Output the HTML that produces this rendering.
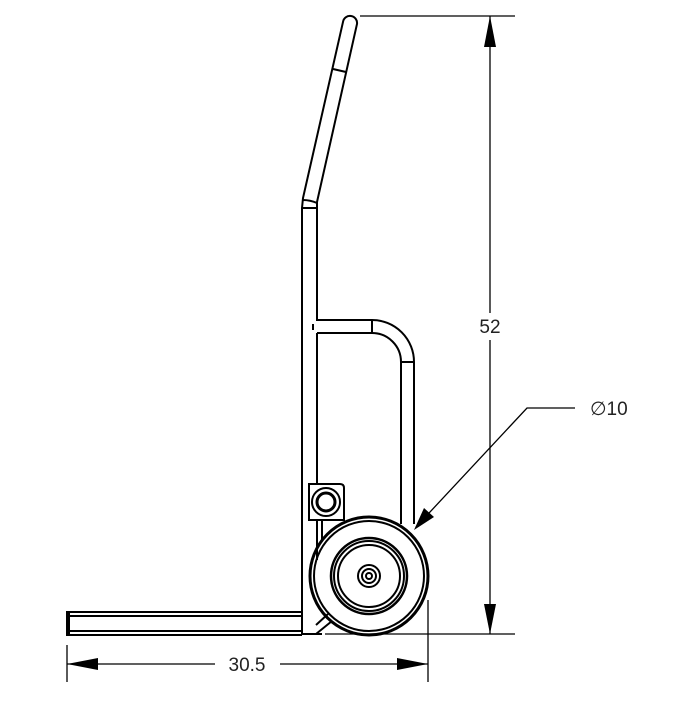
<!DOCTYPE html>
<html><head><meta charset="utf-8"><style>html,body{margin:0;padding:0;background:#fff}</style></head><body>
<svg width="700" height="700" viewBox="0 0 700 700" xmlns="http://www.w3.org/2000/svg">
<g fill="none" stroke="#000" stroke-width="2">
<path d="M302,634 L302,208 L303,198 L343,22 A7,7 0 0 1 357,24 L317,202 L317,320 L372,320 A42,42 0 0 1 414,362 L414,524"/>
<path d="M317,333 L372,333 A29,29 0 0 1 401,362 L401,524"/>
<path d="M317,333 L317,484"/>
<line x1="302" y1="208" x2="317" y2="208"/>
<path d="M303,200 Q310,200 317,203" />
<line x1="333" y1="69" x2="346" y2="72"/>
<line x1="372" y1="320" x2="372" y2="333"/>
<line x1="401" y1="362" x2="414" y2="362"/>
<line x1="313" y1="324" x2="313" y2="330"/>
<path d="M309,484 L340,484 Q344,484 344,488 L344,520 L309,520 Z"/>
<circle cx="326" cy="502" r="14"/>
<circle cx="326" cy="502" r="9" stroke-width="3"/>
<line x1="317" y1="520" x2="317" y2="560"/>
<line x1="322" y1="520" x2="322" y2="540"/>
<path d="M302,612 L67,612 L67,635 L302,635"/>
<line x1="69" y1="616" x2="302" y2="616"/>
<line x1="69" y1="631" x2="302" y2="631"/>
<line x1="69" y1="612" x2="69" y2="635"/>
<line x1="302" y1="634" x2="322" y2="634"/>
<line x1="316" y1="625" x2="328" y2="614"/>
<line x1="316" y1="634" x2="332" y2="621"/>
<circle cx="369" cy="576" r="59" stroke-width="3"/>
<circle cx="369" cy="576" r="55"/>
<circle cx="369" cy="576" r="38" stroke-width="2.5"/>
<circle cx="369" cy="576" r="35"/>
<circle cx="369" cy="576" r="31"/>
<circle cx="369" cy="576" r="11"/>
<circle cx="369" cy="576" r="7"/>
<circle cx="369" cy="576" r="3"/>
</g>
<g stroke="#000" stroke-width="1.3" fill="none">
<line x1="360" y1="16" x2="515" y2="16"/>
<line x1="325" y1="634" x2="515" y2="634"/>
<line x1="490" y1="16" x2="490" y2="313"/>
<line x1="490" y1="340" x2="490" y2="634"/>
<line x1="67" y1="645" x2="67" y2="682"/>
<line x1="428" y1="600" x2="428" y2="682"/>
<line x1="67" y1="664" x2="215" y2="664"/>
<line x1="280" y1="664" x2="428" y2="664"/>
<polyline points="416,527 527,408 575,408"/>
</g>
<g fill="#000">
<polygon points="490,16 484,47 496,47"/>
<polygon points="490,634 484,604 496,604"/>
<polygon points="67,664 98,658 98,670"/>
<polygon points="428,664 397,658 397,670"/>
<polygon points="414,530 424,508 434,517"/>
</g>
<g font-family="'Liberation Sans',sans-serif" font-size="19" fill="#222">
<text x="490" y="333" text-anchor="middle">52</text>
<text x="247" y="671" text-anchor="middle">30.5</text>
<text x="590" y="415">∅10</text>
</g>
</svg>
</body></html>
